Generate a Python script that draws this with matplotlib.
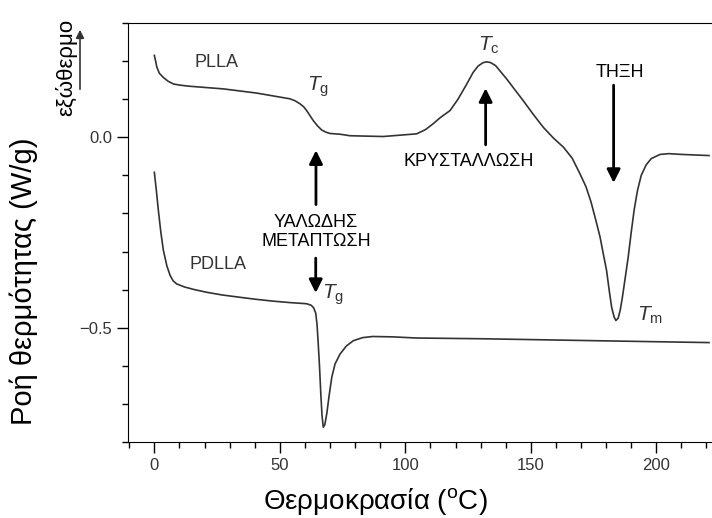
import matplotlib
matplotlib.use('Agg')
import matplotlib.pyplot as plt
from matplotlib.ticker import MultipleLocator

plt.rcParams['font.family'] = ['Liberation Sans', 'DejaVu Sans']
plt.rcParams['mathtext.fontset'] = 'custom'
plt.rcParams['mathtext.rm'] = 'Liberation Sans'
plt.rcParams['mathtext.it'] = 'Liberation Sans:italic'

# PLLA curve (temperature in C, heat flow in W/g)
plla_t = [0, 0.5, 1, 2, 3.6, 5.5, 7.6, 10, 14, 27.5, 40.8, 54, 56, 58, 59.5, 60.7,
          62, 63.3, 65, 66.7, 68.5, 70, 74, 78, 91.2, 104.5, 108, 111, 114, 117.8,
          121, 124.5, 127, 129, 131, 132.5, 134, 136, 138, 140.4, 143.5, 147,
          151, 155, 159, 163, 166.5, 169.6, 172, 174, 176, 177.6, 179, 180.2,
          181.2, 182.2, 183.2, 183.9, 184.8, 185.6, 186.5, 187.6, 188.8, 190,
          191.2, 192.5, 194, 196, 198, 201.5, 205, 210, 221]
plla_q = [0.215, 0.200, 0.184, 0.168, 0.157, 0.147, 0.140, 0.137, 0.134, 0.127,
          0.116, 0.101, 0.096, 0.088, 0.080, 0.070, 0.057, 0.044, 0.030, 0.019,
          0.013, 0.010, 0.008, 0.004, 0.002, 0.009, 0.020, 0.035, 0.052, 0.070,
          0.100, 0.140, 0.170, 0.187, 0.196, 0.198, 0.196, 0.188, 0.172, 0.153,
          0.126, 0.096, 0.060, 0.026, -0.002, -0.026, -0.055, -0.096, -0.130,
          -0.170, -0.220, -0.262, -0.310, -0.350, -0.400, -0.446, -0.472,
          -0.481, -0.475, -0.455, -0.420, -0.370, -0.315, -0.250, -0.190,
          -0.140, -0.100, -0.072, -0.056, -0.045, -0.043, -0.045, -0.048]

# PDLLA curve
pdlla_t = [0, 0.8, 1.6, 2.6, 3.6, 5, 6.3, 7.5, 8.9, 12, 16, 20.9, 27, 34, 40, 47,
           54, 60.7, 62.5, 63.5, 64.3, 64.8, 65.3, 65.8, 66.3, 66.8, 67.3, 67.9,
           68.7, 69.6, 70.7, 72, 74, 76.5, 79.3, 83, 87, 95, 104.5, 131, 157.6,
           184, 221]
pdlla_q = [-0.092, -0.140, -0.192, -0.250, -0.297, -0.338, -0.363, -0.377,
           -0.385, -0.393, -0.400, -0.407, -0.414, -0.420, -0.425, -0.430,
           -0.434, -0.437, -0.441, -0.448, -0.462, -0.490, -0.542, -0.600,
           -0.670, -0.730, -0.761, -0.755, -0.726, -0.680, -0.630, -0.595,
           -0.569, -0.548, -0.534, -0.526, -0.523, -0.524, -0.527, -0.529,
           -0.532, -0.535, -0.539]

fig = plt.figure(figsize=(7.12, 5.18), dpi=100)
ax = fig.add_axes([128 / 712, 1 - 442 / 518, 1 - 128 / 712, (442 - 23) / 518])

line_c = '#333333'
ax.plot(plla_t, plla_q, color=line_c, lw=1.2)
ax.plot(pdlla_t, pdlla_q, color=line_c, lw=1.2)

ax.set_xlim(-10.5, 222.2)
ax.set_ylim(-0.80, 0.30)
ax.spines['right'].set_visible(False)
ax.xaxis.set_major_locator(MultipleLocator(50))
ax.xaxis.set_minor_locator(MultipleLocator(10))
ax.yaxis.set_minor_locator(MultipleLocator(0.1))
ax.tick_params(which='major', length=8, width=1, labelsize=12, labelcolor='#333333')
ax.tick_params(which='minor', length=4, width=1)
ax.set_yticks([-0.5, 0.0])
ax.set_yticklabels(['\u22120.5', '0.0'])

ax.set_xlabel('Θερμοκρασία ($^{\\mathrm{o}}$C)', fontsize=20)
ax.set_ylabel('Ροή θερμότητας (W/g)', fontsize=21)
ax.xaxis.set_label_coords(0.423, -0.105)
ax.yaxis.set_label_coords(-0.154, 0.384)

tc = '#333333'
ax.text(24.6, 0.196, 'PLLA', fontsize=13, color=tc, ha='center', va='center')
ax.text(25.4, -0.334, 'PDLLA', fontsize=13, color=tc, ha='center', va='center')
ax.text(61, 0.123, '$T_{\\mathrm{g}}$', fontsize=15, color=tc, ha='left', va='baseline')
ax.text(66.7, -0.423, '$T_{\\mathrm{g}}$', fontsize=15, color=tc, ha='left', va='baseline')
ax.text(129.0, 0.228, '$T_{\\mathrm{c}}$', fontsize=15, color=tc, ha='left', va='baseline')
ax.text(192.2, -0.481, '$T_{\\mathrm{m}}$', fontsize=15, color=tc, ha='left', va='baseline')

ax.text(64.4, -0.248, 'ΥΑΛΩΔΗΣ\nΜΕΤΑΠΤΩΣΗ', fontsize=13, ha='center', va='center',
        linespacing=1.15)
ax.text(125.3, -0.064, 'ΚΡΥΣΤΑΛΛΩΣΗ', fontsize=13, ha='center', va='center')
ax.text(185.5, 0.170, 'ΤΗΞΗ', fontsize=13, ha='center', va='center')

arr = dict(arrowstyle='-|>', color='black', lw=2, mutation_scale=20)
ax.annotate('', xy=(64.4, -0.027), xytext=(64.4, -0.184), arrowprops=arr)
ax.annotate('', xy=(64.3, -0.416), xytext=(64.3, -0.310), arrowprops=arr)
ax.annotate('', xy=(132.0, 0.136), xytext=(132.0, -0.027), arrowprops=arr)
ax.annotate('', xy=(183.0, -0.127), xytext=(183.0, 0.144), arrowprops=arr)

# exotherm indicator
fig.text(66 / 712, 1 - 67 / 518, 'εξώθερμο', rotation=90, fontsize=16,
         ha='center', va='center')
ax.annotate('', xy=(80, 491), xytext=(80, 426), xycoords='figure pixels',
            textcoords='figure pixels',
            arrowprops=dict(arrowstyle='-|>', color='#333333', lw=1.2, mutation_scale=12),
            annotation_clip=False)

plt.savefig('out.png', dpi=100)
